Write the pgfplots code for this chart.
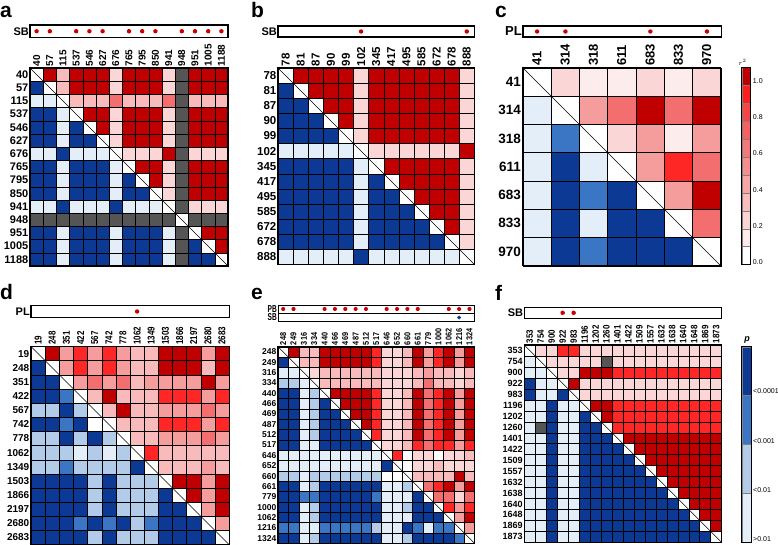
\documentclass[border=0pt]{standalone}
\usepackage{pgfplots}
\pgfplotsset{compat=1.18}
\usepackage{pgfplotstable}
\usepackage{fontspec}
\setmainfont{Liberation Sans}
\newfontfamily\narrowA[FakeStretch=0.8]{Liberation Sans}
\newfontfamily\narrowB[FakeStretch=0.66]{Liberation Sans}
\newfontfamily\narrowC[FakeStretch=0.86]{Liberation Sans}

\definecolor{cG}{HTML}{555555}
\definecolor{cr0}{HTML}{FDECEC}
\definecolor{cr1}{HTML}{FAD6D6}
\definecolor{cr2}{HTML}{F8BABA}
\definecolor{cr3}{HTML}{F59C9C}
\definecolor{cr4}{HTML}{F36E6E}
\definecolor{cr5}{HTML}{FF2626}
\definecolor{cr6}{HTML}{C00000}
\definecolor{cb0}{HTML}{E4EEF8}
\definecolor{cb1}{HTML}{B2CBE8}
\definecolor{cb2}{HTML}{3B76C4}
\definecolor{cb3}{HTML}{0B3994}
\definecolor{star}{HTML}{CC0000}

\tikzset{hmcell/.style={fill=#1, draw=black, line width=0.35pt}}
\pgfplotsset{
  hmcells/.style={scatter, only marks, mark=square*, mark size=#1,
    point meta=explicit symbolic,
    scatter/classes={
      D={hmcell=white}, W={hmcell=white}, G={hmcell=cG},
      r0={hmcell=cr0}, r1={hmcell=cr1}, r2={hmcell=cr2}, r3={hmcell=cr3},
      r4={hmcell=cr4}, r5={hmcell=cr5}, r6={hmcell=cr6},
      b0={hmcell=cb0}, b1={hmcell=cb1}, b2={hmcell=cb2}, b3={hmcell=cb3}}},
  hm/.style={anchor=north west, y dir=reverse, clip=false, clip mode=individual,
    axis on top, axis line style={line width=1.1pt},
    xticklabel pos=right, major tick length=0pt, tick style={draw=none},
    xticklabel style={rotate=90, anchor=west, inner sep=1.5pt},
    yticklabel style={anchor=east, inner sep=1.5pt}},
  annot/.style={anchor=north west, axis line style={line width=1.1pt},
    ymin=0, ymax=1, xtick=\empty, ytick=\empty, clip=false},
  stars/.style={only marks, mark=asterisk, mark size=2.1pt, color=star,
    mark options={line width=1.6pt}},
  diag/.style={black, line width=0.45pt, mark=none},
}

% panel a (SB)
\pgfplotstableread{
c0 c1 c2 c3 c4 c5 c6 c7 c8 c9 c10 c11 c12 c13 c14
D  r6 r2 r6 r6 r6 r1 r6 r6 r6 r1 G  r6 r6 r6
b3 D  r2 r6 r6 r6 r1 r6 r6 r6 r1 G  r6 r6 r6
b0 b0 D  r2 r2 r2 r4 r2 r2 r2 r4 G  r2 r2 r2
b3 b3 b0 D  r6 r6 r1 r6 r6 r6 r1 G  r6 r6 r6
b3 b3 b0 b3 D  r6 r1 r6 r6 r6 r1 G  r6 r6 r6
b3 b3 b0 b3 b3 D  r1 r6 r6 r6 r1 G  r6 r6 r6
b0 b0 b3 b0 b0 b0 D  r1 r1 r1 r6 G  r1 r1 r1
b3 b3 b0 b3 b3 b3 b0 D  r6 r6 r1 G  r6 r6 r6
b3 b3 b0 b3 b3 b3 b0 b3 D  r6 r1 G  r6 r6 r6
b3 b3 b0 b3 b3 b3 b0 b3 b3 D  r1 G  r6 r6 r6
b0 b0 b3 b0 b0 b0 b3 b0 b0 b0 D  G  r1 r1 r1
G  G  G  G  G  G  G  G  G  G  G  D  G  G  G
b3 b3 b0 b3 b3 b3 b0 b3 b3 b3 b0 G  D  r6 r6
b3 b3 b0 b3 b3 b3 b0 b3 b3 b3 b0 G  b3 D  r6
b3 b3 b0 b3 b3 b3 b0 b3 b3 b3 b0 G  b3 b3 D
}\tabA

% panel b (SB)
\pgfplotstableread{
c0 c1 c2 c3 c4 c5 c6 c7 c8 c9 c10 c11 c12
D  r6 r6 r6 r6 r1 r6 r6 r6 r6 r6 r6 r1
b3 D  r6 r6 r6 r1 r6 r6 r6 r6 r6 r6 r1
b3 b3 D  r6 r6 r1 r6 r6 r6 r6 r6 r6 r1
b3 b3 b3 D  r6 r1 r6 r6 r6 r6 r6 r6 r1
b3 b3 b3 b3 D  r1 r6 r6 r6 r6 r6 r6 r1
b0 b0 b0 b0 b0 D  r1 r1 r1 r1 r1 r1 r6
b3 b3 b3 b3 b3 b0 D  r6 r6 r6 r6 r6 r1
b3 b3 b3 b3 b3 b0 b3 D  r6 r6 r6 r6 r1
b3 b3 b3 b3 b3 b0 b3 b3 D  r6 r6 r6 r1
b3 b3 b3 b3 b3 b0 b3 b3 b3 D  r6 r6 r1
b3 b3 b3 b3 b3 b0 b3 b3 b3 b3 D  r6 r1
b3 b3 b3 b3 b3 b0 b3 b3 b3 b3 b3 D  r1
b0 b0 b0 b0 b0 b3 b0 b0 b0 b0 b0 b0 D
}\tabB

% panel c (PL)
\pgfplotstableread{
c0 c1 c2 c3 c4 c5 c6
D  r1 r0 r0 r1 r0 r1
b0 D  r3 r4 r6 r4 r6
b0 b2 D  r1 r3 r0 r3
b0 b3 b0 D  r3 r5 r4
b0 b3 b2 b3 D  r3 r6
b0 b3 b0 b3 b3 D  r4
b0 b3 b2 b3 b3 b3 D
}\tabC

% panel d (PL)
\pgfplotstableread{
c0 c1 c2 c3 c4 c5 c6 c7 c8 c9 c10 c11 c12 c13
D  r6 r3 r5 r3 r5 r3 r2 r2 r6 r6 r6 r3 r6
b3 D  r3 r5 r3 r5 r3 r2 r2 r6 r6 r6 r2 r6
b3 b3 D  r3 r4 r3 r4 r2 r3 r3 r3 r3 r6 r3
b3 b3 b2 D  r2 r6 r2 r2 r2 r5 r5 r5 r3 r5
b1 b1 b3 b1 D  r2 r6 r2 r2 r3 r3 r3 r4 r3
b3 b3 b2 b3 W  D  r2 r2 r2 r5 r5 r5 r3 r5
b1 b1 b3 b1 b3 b1 D  r2 r2 r3 r3 r3 r4 r3
b1 b1 b1 b0 b1 b0 b1 D  r5 r2 r2 r2 r2 r2
b1 b1 b2 b1 b1 b1 b1 b3 D  r2 r2 r2 r3 r2
b3 b3 b3 b3 b1 b3 b1 b1 b1 D  r6 r6 r3 r6
b3 b3 b3 b3 b1 b3 b1 b1 b1 b3 D  r6 r3 r6
b3 b3 b3 b3 b1 b3 b1 b1 b1 b3 b3 D  r3 r6
b3 b3 b3 b2 b3 b2 b3 b1 b2 b3 b3 b3 D  r3
b3 b3 b3 b3 b1 b3 b1 b1 b1 b3 b3 b3 b3 D
}\tabD

% panel e (PB, SB)
\pgfplotstableread{
c0 c1 c2 c3 c4 c5 c6 c7 c8 c9 c10 c11 c12 c13 c14 c15 c16 c17 c18
D  r6 r2 r2 r6 r6 r6 r6 r6 r5 r1 r1 r2 r6 r3 r5 r6 r3 r6
b3 D  r2 r2 r6 r6 r6 r6 r6 r5 r1 r1 r2 r6 r3 r5 r6 r3 r6
b0 b0 D  r1 r2 r2 r2 r2 r2 r2 r1 r1 r1 r2 r3 r2 r2 r1 r2
b1 b1 b0 D  r2 r2 r2 r2 r2 r2 r1 r1 r1 r2 r4 r2 r2 r1 r2
b3 b3 b0 b1 D  r6 r6 r6 r6 r5 r1 r1 r2 r6 r4 r5 r6 r3 r6
b3 b3 b0 b1 b3 D  r6 r6 r6 r5 r1 r1 r2 r6 r4 r5 r6 r3 r6
b3 b3 b0 b1 b3 b3 D  r6 r6 r5 r1 r1 r2 r6 r4 r5 r6 r3 r6
b3 b3 b0 b1 b3 b3 b3 D  r6 r5 r1 r1 r2 r6 r4 r5 r6 r3 r6
b3 b3 b0 b1 b3 b3 b3 b3 D  r5 r1 r1 r2 r6 r4 r5 r6 r3 r6
b3 b3 b0 b0 b3 b3 b3 b3 b3 D  r1 r1 r2 r5 r4 r5 r5 r3 r5
b0 b0 b0 b0 b0 b0 b0 b0 b0 b0 D  r5 W  r1 r1 W  r1 r1 r2
b0 b0 b0 b0 b0 b0 b0 b0 b0 b0 b3 D  W  r1 r1 r2 r1 r1 r1
b1 b1 b0 b1 b1 b1 b1 b1 b1 b1 W  W  D  r2 r2 r2 r2 r6 r2
b3 b3 b0 b1 b3 b3 b3 b3 b3 b3 b0 b0 b1 D  r4 r5 r6 r3 r6
b3 b3 b2 b2 b3 b3 b3 b3 b3 b2 b0 b0 b0 b3 D  r4 r4 r1 r4
b3 b3 b0 b1 b3 b3 b3 b3 b3 b3 b0 b0 b1 b3 b3 D  r5 r3 r5
b3 b3 b0 b1 b3 b3 b3 b3 b3 b3 b0 b0 b0 b3 b3 b3 D  r3 r6
b2 b2 b0 b0 b2 b2 b2 b2 b2 b1 b0 b0 b3 b2 b0 b2 b2 D  r3
b3 b3 b0 b1 b3 b3 b3 b3 b3 b3 b0 b0 b1 b3 b3 b3 b3 b2 D
}\tabE

% panel f (SB)
\pgfplotstableread{
c0 c1 c2 c3 c4 c5 c6 c7 c8 c9 c10 c11 c12 c13 c14 c15 c16 c17
D  r1 r1 r5 r5 r1 r1 r1 r1 r1 r1 r1 r1 r1 r1 r1 r1 r1
b0 D  r1 r1 r1 r1 r1 G  r1 r1 r1 r1 r1 r1 r1 r1 r1 r1
b0 b0 D  r1 r1 r6 r6 r6 r5 r5 r5 r5 r5 r5 r5 r5 r5 r5
b3 b0 b0 D  r6 r1 r1 r1 r1 r1 r1 r1 r1 r1 r1 r1 r1 r1
b3 b0 b0 b3 D  r1 r1 r1 r1 r1 r1 r1 r1 r1 r1 r1 r1 r1
b0 b0 b3 b0 b0 D  r6 r6 r5 r5 r5 r5 r5 r5 r5 r5 r5 r5
b0 b0 b3 b0 b0 b3 D  r6 r5 r5 r5 r5 r5 r5 r5 r5 r5 r5
b0 G  b3 b0 b0 b3 b3 D  r5 r5 r5 r5 r5 r5 r5 r5 r5 r5
b0 b0 b3 b0 b0 b3 b3 b3 D  r6 r6 r6 r6 r6 r6 r6 r6 r6
b0 b0 b3 b0 b0 b3 b3 b3 b3 D  r6 r6 r6 r6 r6 r6 r6 r6
b0 b0 b3 b0 b0 b3 b3 b3 b3 b3 D  r6 r6 r6 r6 r6 r6 r6
b0 b0 b3 b0 b0 b3 b3 b3 b3 b3 b3 D  r6 r6 r6 r6 r6 r6
b0 b0 b3 b0 b0 b3 b3 b3 b3 b3 b3 b3 D  r6 r6 r6 r6 r6
b0 b0 b3 b0 b0 b3 b3 b3 b3 b3 b3 b3 b3 D  r6 r6 r6 r6
b0 b0 b3 b0 b0 b3 b3 b3 b3 b3 b3 b3 b3 b3 D  r6 r6 r6
b0 b0 b3 b0 b0 b3 b3 b3 b3 b3 b3 b3 b3 b3 b3 D  r6 r6
b0 b0 b3 b0 b0 b3 b3 b3 b3 b3 b3 b3 b3 b3 b3 b3 D  r6
b0 b0 b3 b0 b0 b3 b3 b3 b3 b3 b3 b3 b3 b3 b3 b3 b3 D
}\tabF

\begin{document}
\begin{tikzpicture}
\path[use as bounding box] (0,0) rectangle (778pt,-545pt);

% ---------- a ----------
\node[anchor=base west, inner sep=0, font=\bfseries\fontsize{21}{21}\selectfont] at (0pt,-17.3pt) {a};
\begin{axis}[annot, at={(30pt,-25pt)}, x=13.2pt, y=12.5pt, xmin=-0.5, xmax=14.5]
\addplot[stars] coordinates {(0,0.5) (1,0.5) (3,0.5) (4,0.5) (5,0.5) (7,0.5) (8,0.5) (9,0.5) (11,0.5) (12,0.5) (13,0.5) (14,0.5)};
\node[anchor=east, inner sep=1pt, font=\bfseries\fontsize{11}{11}\selectfont] at (rel axis cs:0,0.5) {SB};
\end{axis}
\begin{axis}[hm, at={(30pt,-68pt)}, x=13.2pt, y=13.2pt,
  xmin=-0.5, xmax=14.5, ymin=-0.5, ymax=14.5,
  xtick={0,...,14}, ytick={0,...,14},
  xticklabels={40,57,115,537,546,627,676,765,795,850,941,948,951,1005,1188},
  yticklabels={40,57,115,537,546,627,676,765,795,850,941,948,951,1005,1188},
  xticklabel style={font=\bfseries\fontsize{10}{10}\selectfont},
  yticklabel style={font=\bfseries\fontsize{11}{11}\selectfont}]
\pgfplotsinvokeforeach{0,...,14}{
  \addplot[hmcells=6.6pt] table[x expr=#1, y expr=\coordindex, meta=c#1] {\tabA};
}
\addplot[diag] coordinates {(-0.5,-0.5) (14.5,14.5)};
\end{axis}

% ---------- b ----------
\node[anchor=base west, inner sep=0, font=\bfseries\fontsize{21}{21}\selectfont] at (251pt,-17.3pt) {b};
\begin{axis}[annot, at={(278pt,-26pt)}, x=15.1pt, y=11pt, xmin=-0.5, xmax=12.5]
\addplot[stars] coordinates {(5,0.5) (12,0.5)};
\node[anchor=east, inner sep=1pt, font=\bfseries\fontsize{11}{11}\selectfont] at (rel axis cs:0,0.5) {SB};
\end{axis}
\begin{axis}[hm, at={(278pt,-68pt)}, x=15.1pt, y=15.1pt,
  xmin=-0.5, xmax=12.5, ymin=-0.5, ymax=12.5,
  xtick={0,...,12}, ytick={0,...,12},
  xticklabels={78,81,87,90,99,102,345,417,495,585,672,678,888},
  yticklabels={78,81,87,90,99,102,345,417,495,585,672,678,888},
  xticklabel style={font=\bfseries\fontsize{11.5}{11.5}\selectfont},
  yticklabel style={font=\bfseries\fontsize{11.5}{11.5}\selectfont}]
\pgfplotsinvokeforeach{0,...,12}{
  \addplot[hmcells=7.55pt] table[x expr=#1, y expr=\coordindex, meta=c#1] {\tabB};
}
\addplot[diag] coordinates {(-0.5,-0.5) (12.5,12.5)};
\end{axis}

% ---------- c ----------
\node[anchor=base west, inner sep=0, font=\bfseries\fontsize{21}{21}\selectfont] at (495pt,-17.3pt) {c};
\begin{axis}[annot, at={(523pt,-26pt)}, x=28.3pt, y=11pt, xmin=-0.5, xmax=6.5]
\addplot[stars] coordinates {(0,0.5) (1,0.5) (4,0.5) (6,0.5)};
\node[anchor=east, inner sep=1pt, font=\bfseries\fontsize{13}{13}\selectfont] at (rel axis cs:0,0.5) {PL};
\end{axis}
\begin{axis}[hm, at={(522.7pt,-67.7pt)}, x=28.3pt, y=28.3pt,
  xmin=-0.5, xmax=6.5, ymin=-0.5, ymax=6.5,
  xtick={0,...,6}, ytick={0,...,6},
  xticklabels={41,314,318,611,683,833,970},
  yticklabels={41,314,318,611,683,833,970},
  xticklabel style={font=\bfseries\fontsize{13}{13}\selectfont},
  yticklabel style={font=\bfseries\fontsize{13.5}{13.5}\selectfont}]
\pgfplotsinvokeforeach{0,...,6}{
  \addplot[hmcells=14.15pt] table[x expr=#1, y expr=\coordindex, meta=c#1] {\tabC};
}
\addplot[diag] coordinates {(-0.5,-0.5) (6.5,6.5)};
\end{axis}
% r^2 colour bar
\node[inner sep=0, font=\fontsize{7}{7}\selectfont] at (742.5pt,-62pt) {$r^2$};
\begin{axis}[anchor=north west, at={(741.7pt,-67.7pt)}, x=9pt, y=17.9pt,
  xmin=-0.5, xmax=0.5, ymin=0, ymax=11, ybar stacked, bar width=9pt,
  axis on top, axis line style={line width=0.9pt}, xtick=\empty,
  ytick={0.15,2.17,4.19,6.21,8.23,10.25},
  yticklabels={0.0,0.2,0.4,0.6,0.8,1.0},
  yticklabel pos=right, major tick length=0pt,
  yticklabel style={font=\fontsize{7}{7}\selectfont, inner sep=2pt}]
\addplot[fill=white, draw=black!50] coordinates {(0,1)};
\addplot[fill={rgb,255:red,253;green,234;blue,234}, draw=black!50] coordinates {(0,1)};
\addplot[fill={rgb,255:red,251;green,212;blue,212}, draw=black!50] coordinates {(0,1)};
\addplot[fill={rgb,255:red,249;green,189;blue,189}, draw=black!50] coordinates {(0,1)};
\addplot[fill={rgb,255:red,247;green,166;blue,166}, draw=black!50] coordinates {(0,1)};
\addplot[fill={rgb,255:red,246;green,142;blue,142}, draw=black!50] coordinates {(0,1)};
\addplot[fill={rgb,255:red,246;green,119;blue,119}, draw=black!50] coordinates {(0,1)};
\addplot[fill={rgb,255:red,246;green,96;blue,96}, draw=black!50] coordinates {(0,1)};
\addplot[fill={rgb,255:red,247;green,69;blue,69}, draw=black!50] coordinates {(0,1)};
\addplot[fill={rgb,255:red,255;green,30;blue,30}, draw=black!50] coordinates {(0,1)};
\addplot[fill=cr6, draw=black!50] coordinates {(0,1)};
\end{axis}

% ---------- d ----------
\node[anchor=base west, inner sep=0, font=\bfseries\fontsize{21}{21}\selectfont] at (0pt,-299pt) {d};
\begin{axis}[annot, at={(31pt,-305.7pt)}, x=14.15pt, y=11.6pt, xmin=-0.5, xmax=13.5]
\addplot[stars] coordinates {(7,0.5)};
\node[anchor=east, inner sep=1pt, font=\bfseries\fontsize{11}{11}\selectfont] at (rel axis cs:0,0.5) {PL};
\end{axis}
\begin{axis}[hm, at={(31pt,-346.5pt)}, x=14.15pt, y=14.15pt,
  xmin=-0.5, xmax=13.5, ymin=-0.5, ymax=13.5,
  xtick={0,...,13}, ytick={0,...,13},
  xticklabels={19,248,351,422,567,742,778,1062,1349,1503,1866,2197,2680,2683},
  yticklabels={19,248,351,422,567,742,778,1062,1349,1503,1866,2197,2680,2683},
  xticklabel style={font=\narrowA\bfseries\fontsize{10}{10}\selectfont},
  yticklabel style={font=\bfseries\fontsize{10}{10}\selectfont}]
\pgfplotsinvokeforeach{0,...,13}{
  \addplot[hmcells=7.075pt] table[x expr=#1, y expr=\coordindex, meta=c#1] {\tabD};
}
\addplot[diag] coordinates {(-0.5,-0.5) (13.5,13.5)};
\end{axis}

% ---------- e ----------
\node[anchor=base west, inner sep=0, font=\bfseries\fontsize{21}{21}\selectfont] at (251pt,-299pt) {e};
\begin{axis}[annot, at={(278pt,-305pt)}, x=10.35pt, y=8pt, xmin=-0.5, xmax=18.5,
  axis line style={line width=0.9pt}]
\addplot[stars, mark size=1.9pt] coordinates {(0,0.5) (1,0.5) (4,0.5) (5,0.5) (6,0.5) (7,0.5) (8,0.5) (10,0.5) (11,0.5) (12,0.5) (13,0.5) (16,0.5) (17,0.5) (18,0.5)};
\node[anchor=east, inner sep=1pt, font=\narrowB\bfseries\fontsize{10}{10}\selectfont] at (rel axis cs:0,0.5) {PB};
\end{axis}
\begin{axis}[annot, at={(278pt,-313.3pt)}, x=10.35pt, y=8.4pt, xmin=-0.5, xmax=18.5,
  axis line style={line width=0.9pt}]
\addplot[only marks, mark=*, mark size=1.7pt, color=cb3] coordinates {(17,0.5)};
\node[anchor=east, inner sep=1pt, font=\narrowB\bfseries\fontsize{10}{10}\selectfont] at (rel axis cs:0,0.5) {SB};
\end{axis}
\begin{axis}[hm, at={(278pt,-346.7pt)}, x=10.35pt, y=10.35pt,
  xmin=-0.5, xmax=18.5, ymin=-0.5, ymax=18.5,
  xtick={0,...,18}, ytick={0,...,18},
  xticklabels={248,249,316,334,440,466,469,487,512,517,646,652,660,661,779,1000,1062,1216,1324},
  yticklabels={248,249,316,334,440,466,469,487,512,517,646,652,660,661,779,1000,1062,1216,1324},
  xticklabel style={font=\narrowC\bfseries\fontsize{8.5}{8.5}\selectfont},
  yticklabel style={font=\bfseries\fontsize{8.5}{8.5}\selectfont}]
\pgfplotsinvokeforeach{0,...,18}{
  \addplot[hmcells=5.175pt] table[x expr=#1, y expr=\coordindex, meta=c#1] {\tabE};
}
\addplot[diag] coordinates {(-0.5,-0.5) (18.5,18.5)};
\end{axis}

% ---------- f ----------
\node[anchor=base west, inner sep=0, font=\bfseries\fontsize{21}{21}\selectfont] at (495pt,-300pt) {f};
\begin{axis}[annot, at={(524.3pt,-307.3pt)}, x=10.96pt, y=11pt, xmin=-0.5, xmax=17.5]
\addplot[stars] coordinates {(3,0.5) (4,0.5)};
\node[anchor=east, inner sep=1pt, font=\bfseries\fontsize{11}{11}\selectfont] at (rel axis cs:0,0.5) {SB};
\end{axis}
\begin{axis}[hm, at={(524.3pt,-345pt)}, x=10.96pt, y=10.96pt,
  xmin=-0.5, xmax=17.5, ymin=-0.5, ymax=17.5,
  xtick={0,...,17}, ytick={0,...,17},
  xticklabels={353,754,900,922,983,1196,1202,1260,1401,1422,1509,1557,1632,1638,1640,1648,1869,1873},
  yticklabels={353,754,900,922,983,1196,1202,1260,1401,1422,1509,1557,1632,1638,1640,1648,1869,1873},
  xticklabel style={font=\narrowC\bfseries\fontsize{9.3}{9.3}\selectfont},
  yticklabel style={font=\bfseries\fontsize{9}{9}\selectfont}]
\pgfplotsinvokeforeach{0,...,17}{
  \addplot[hmcells=5.48pt] table[x expr=#1, y expr=\coordindex, meta=c#1] {\tabF};
}
\addplot[diag] coordinates {(-0.5,-0.5) (17.5,17.5)};
\end{axis}
% p colour bar
\node[font=\bfseries\itshape\fontsize{9}{9}\selectfont] at (747pt,-340pt) {p};
\begin{axis}[anchor=north west, at={(741.7pt,-346.7pt)}, x=9.3pt, y=48.9pt,
  xmin=-0.5, xmax=0.5, ymin=0, ymax=4, ybar stacked, bar width=9.3pt,
  axis on top, axis line style={line width=0.9pt}, xtick=\empty,
  ytick={0.07,1.07,2.08,3.09},
  yticklabels={>0.01,<0.01,<0.001,<0.0001},
  yticklabel pos=right, major tick length=0pt,
  yticklabel style={font=\fontsize{7}{7}\selectfont, inner sep=2pt}]
\addplot[fill=cb0, draw=black!50] coordinates {(0,1)};
\addplot[fill=cb1, draw=black!50] coordinates {(0,1)};
\addplot[fill=cb2, draw=black!50] coordinates {(0,1)};
\addplot[fill=cb3, draw=black!50] coordinates {(0,1)};
\end{axis}
\end{tikzpicture}
\end{document}
